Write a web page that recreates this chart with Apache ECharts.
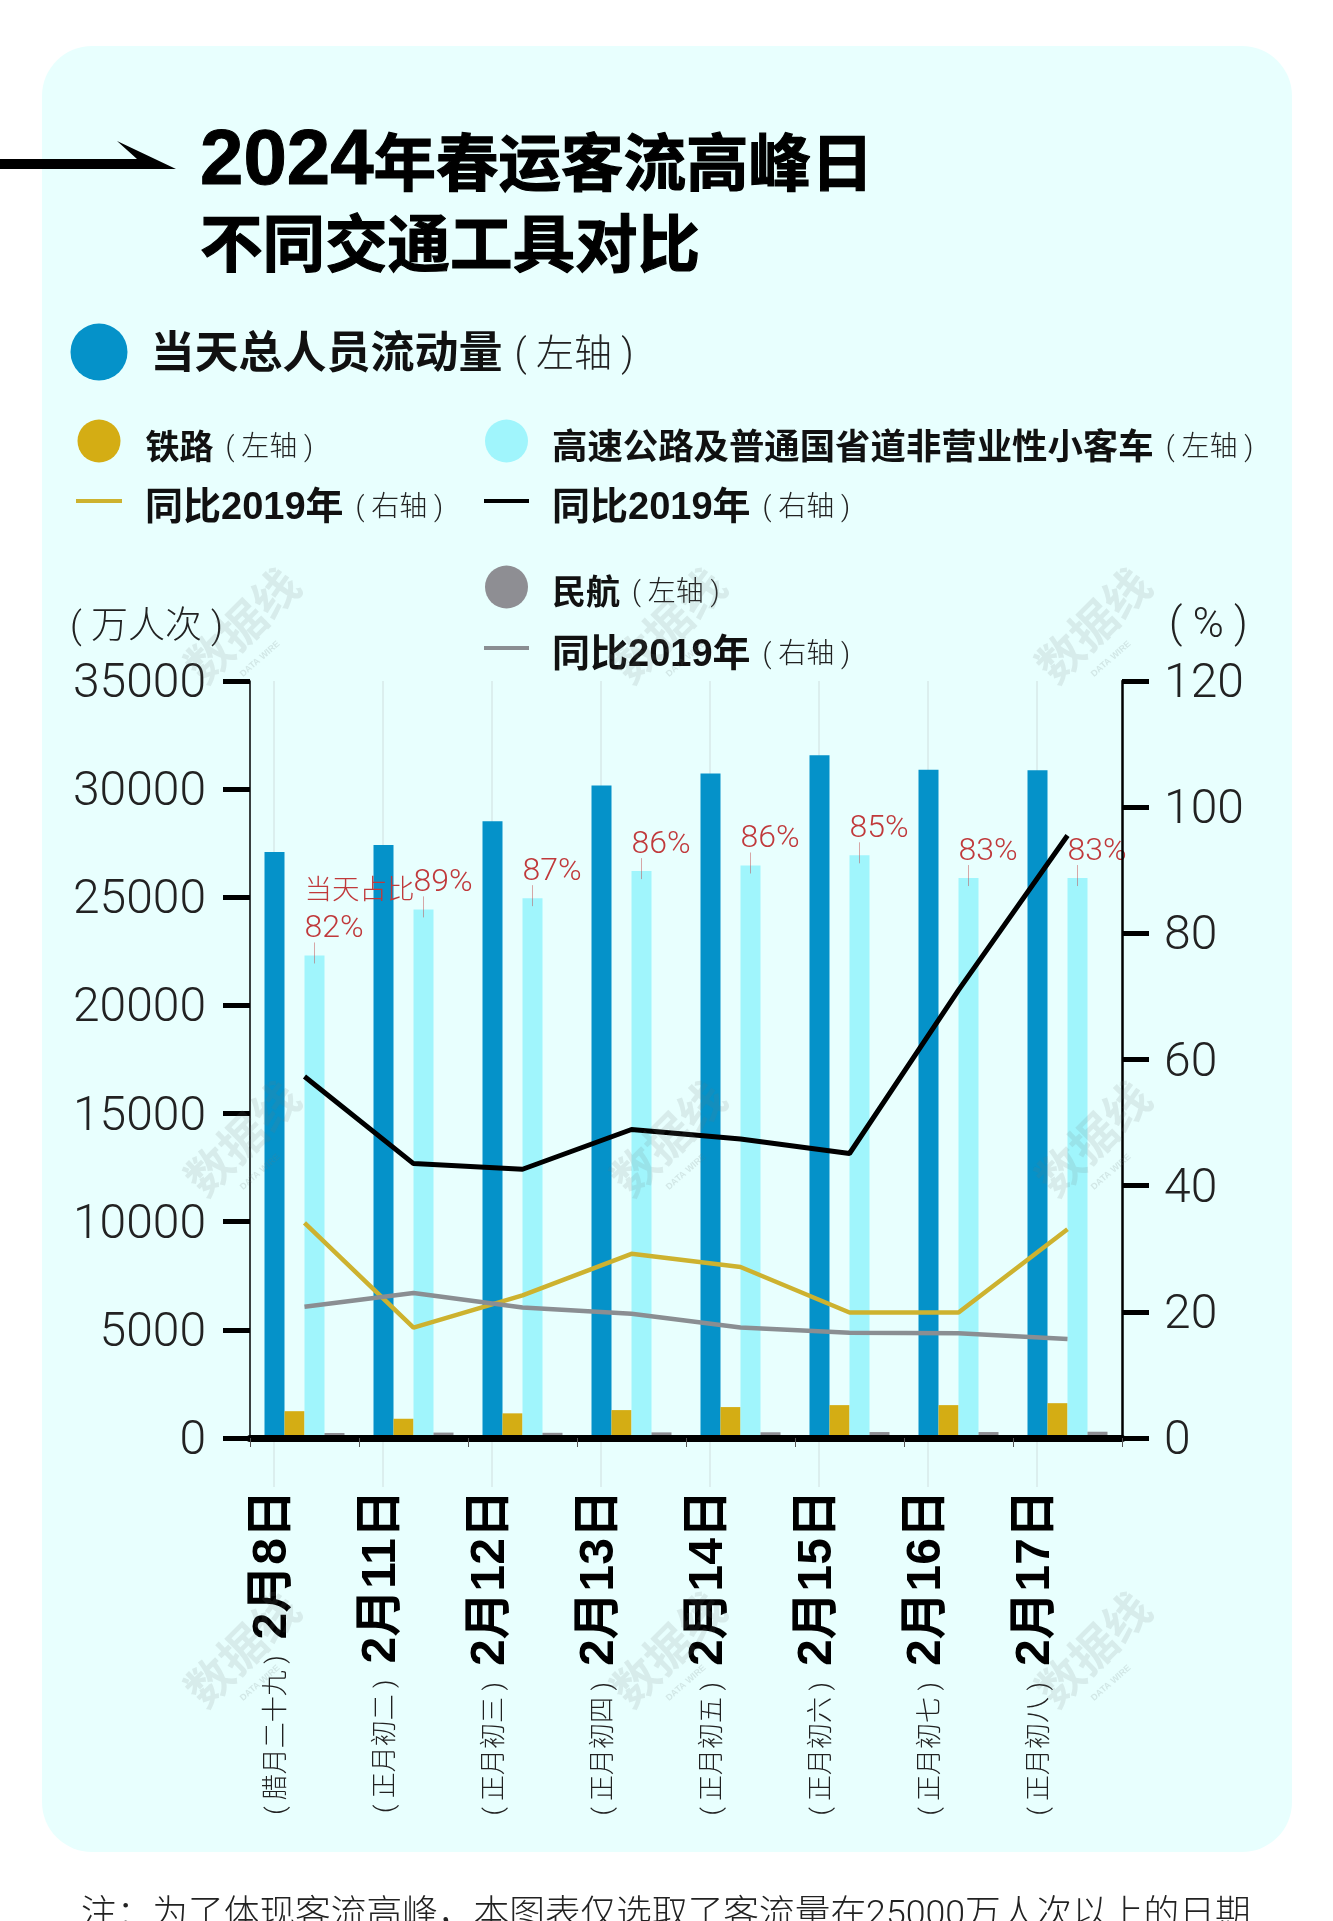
<!DOCTYPE html>
<html><head><meta charset="utf-8">
<style>html,body{margin:0;padding:0;background:#fff;overflow:hidden}#c{width:1333px;height:1921px}</style>
<script src="https://cdn.jsdelivr.net/npm/echarts@6/dist/echarts.min.js"></script>
</head><body><div id="c"></div>
<script>
const dates = ['2月8日','2月11日','2月12日','2月13日','2月14日','2月15日','2月16日','2月17日'];
const lunar = ['( 腊月二十九 )','( 正月初二 )','( 正月初三 )','( 正月初四 )','( 正月初五 )','( 正月初六 )','( 正月初七 )','( 正月初八 )'];
const total = [27090,27420,28520,30170,30720,31570,30900,30870];
const rail = [1240,890,1140,1290,1430,1520,1520,1610];
const highway = [22310,24440,24960,26210,26470,26940,25890,25890];
const aviation = [230,250,240,260,265,275,275,290];
const railYoY = [34.1,17.5,22.6,29.2,27.1,19.9,19.9,33.1];
const highwayYoY = [57.3,43.5,42.6,48.9,47.4,45.1,71,95.5];
const aviationYoY = [20.8,23,20.7,19.7,17.5,16.7,16.6,15.7];
const shareLabels = ['{h|当天占比}\n{v|82%}','{v|89%}','{v|87%}','{v|86%}','{v|86%}','{v|85%}','{v|83%}','{v|83%}'];
const leftTicks = {min:0,max:35000,interval:5000};
const rightTicks = {min:0,max:120,interval:20};

const SANS = '"Roboto","Noto Sans CJK SC",sans-serif';
const BOLD = '"Liberation Sans","Noto Sans CJK SC",sans-serif';
const CJK = '"Noto Sans CJK SC",sans-serif';
const C = {total:'#0592c9',rail:'#d4ad14',highway:'#a0f5fc',aviation:'#8e8e93',railL:'#cdb22f',hwL:'#000',avL:'#8a8e92',bg:'#e8fffe',red:'#c0393b',ink:'#1c1c1c'};

function legendItem(name,left,top,w,h,icon,label,axis,size,subSize,padTop,padLeft){
  return {show:true,left,top,padding:0,orient:'horizontal',selectedMode:false,data:[{name,icon}],itemWidth:w,itemHeight:h,
    formatter:()=>`{n|${label}}{a|${axis}}`,
    textStyle:{rich:{
      n:{fontFamily:BOLD,fontWeight:'bold',fontSize:size,lineHeight:size,color:'#111',padding:[padTop,0,0,padLeft]},
      a:{fontFamily:SANS,fontWeight:300,fontSize:subSize,lineHeight:size,color:'#222',padding:[padTop,0,0,12]}
    }}};
}
const wmPos = [[242,625],[668,625],[1093,625],[242,1138],[668,1138],[1093,1138],[242,1649],[668,1649],[1093,1649]];
const wm = wmPos.flatMap(p=>[
  {type:'text',x:p[0],y:p[1],rotation:0.78,silent:true,z:50,style:{text:'数据线',fontFamily:CJK,fontWeight:'bold',fontSize:46,fill:'rgba(110,120,120,0.14)',textAlign:'center',textVerticalAlign:'middle'}},
  {type:'text',x:p[0]+18,y:p[1]+34,rotation:0.72,silent:true,z:50,style:{text:'DATA WIRE',fontFamily:BOLD,fontWeight:'bold',fontSize:9,fill:'rgba(110,120,120,0.18)',textAlign:'center',textVerticalAlign:'middle'}}
]);

const option = {
  animation:false,
  backgroundColor:'#fff',
  title:{left:200,top:122,padding:0,
    text:'{d|2024}{t|年春运客流高峰日}\n{t|不同交通工具对比}',
    textStyle:{rich:{
      d:{fontFamily:BOLD,fontWeight:'bold',fontSize:78,lineHeight:81,color:'#000',textBorderColor:'#000',textBorderWidth:1},
      t:{fontFamily:CJK,fontWeight:'bold',fontSize:62.5,lineHeight:81,color:'#000',textBorderColor:'#000',textBorderWidth:1.2}
    }}},
  graphic:[
    {type:'rect',z:-10,silent:true,shape:{x:42,y:46,width:1250,height:1806,r:50},style:{fill:C.bg}},
    {type:'polygon',z:5,silent:true,shape:{points:[[0,159],[137,159],[117,141],[176,169],[0,169]]},style:{fill:'#000'}},
    {type:'text',z:5,silent:true,x:81,y:1916,style:{text:'注：为了体现客流高峰，本图表仅选取了客流量在25000万人次以上的日期',fontFamily:SANS,fontWeight:300,fontSize:35.7,fill:'#222',textVerticalAlign:'middle'}},
    ...wm
  ],
  legend:[
    legendItem('当天总人员流动量',70.5,323.5,57,57,'circle','当天总人员流动量','( 左轴 )',44,38,8,18),
    legendItem('铁路',77.5,415.5,43,43,'circle','铁路','( 左轴 )',34,28,17,20),
    legendItem('铁路同比2019年',76,474.5,46,4,'rect','同比2019年','( 右轴 )',38,28,15,18),
    legendItem('高速公路及普通国省道非营业性小客车',485,414.8,43,43,'circle','高速公路及普通国省道非营业性小客车','( 左轴 )',35.4,28,17,19),
    legendItem('高速公路同比2019年',484,474.5,45,4,'rect','同比2019年','( 右轴 )',38,28,15,18),
    legendItem('民航',485,562.5,43,43,'circle','民航','( 左轴 )',34,28,15,19),
    legendItem('民航同比2019年',484,621.5,45,4,'rect','同比2019年','( 右轴 )',38,28,15,18)
  ],
  grid:{left:250,right:211,top:681,bottom:483,containLabel:false},
  xAxis:{type:'category',data:dates,z:5,
    axisLine:{show:true,onZero:false,lineStyle:{color:'#000',width:7}},
    axisTick:{show:true,length:9,lineStyle:{color:'#555',width:1}},
    splitLine:{show:false},
    axisLabel:{interval:0,rotate:90,margin:52,verticalAlign:'bottom',hideOverlap:false,
      formatter:(v,i)=>`{s|${lunar[i]}}{d|${v}}`,
      rich:{
        s:{fontFamily:SANS,fontWeight:300,fontSize:26,color:'#222',verticalAlign:'bottom',padding:[0,0,14,0]},
        d:{fontFamily:BOLD,fontWeight:'bold',fontSize:48,color:'#000',verticalAlign:'bottom',padding:[0,0,8,16]}
      }}},
  yAxis:[
    {type:'value',...leftTicks,name:'( 万人次 )',nameLocation:'end',nameGap:34,z:5,
      nameTextStyle:{fontFamily:SANS,fontWeight:300,fontSize:37,color:'#222',align:'right',padding:[0,27,0,0]},
      axisLine:{show:true,lineStyle:{color:'#000',width:1.5}},
      axisTick:{show:true,length:27,lineStyle:{color:'#000',width:5}},
      splitLine:{show:false},
      axisLabel:{margin:44,formatter:v=>`{a|${v}}`,rich:{a:{padding:[8,0,0,0],fontFamily:SANS,fontWeight:300,fontSize:48,color:'#222'}}}},
    {type:'value',...rightTicks,name:'( % )',nameLocation:'end',nameGap:34,z:5,
      nameTextStyle:{fontFamily:SANS,fontWeight:300,fontSize:42,color:'#222',align:'left',padding:[0,0,0,47]},
      axisLine:{show:true,lineStyle:{color:'#000',width:2.5}},
      axisTick:{show:true,length:27,lineStyle:{color:'#000',width:5}},
      splitLine:{show:false},
      axisLabel:{margin:42,formatter:v=>`{a|${v}}`,rich:{a:{padding:[8,0,0,0],fontFamily:SANS,fontWeight:300,fontSize:48,color:'#222'}}}}
  ],
  series:[
    {type:'custom',name:'guide',z:1,silent:true,clip:false,data:dates.map((d,i)=>[i]),encode:{x:0},
      renderItem:(params,api)=>{
        const p=api.coord([api.value(0),0]);
        const sys=params.coordSys;
        return {type:'line',shape:{x1:p[0]-30.5,y1:sys.y,x2:p[0]-30.5,y2:sys.y+sys.height+49},style:{stroke:'#cfdede',lineWidth:1}};
      }},
    {type:'bar',name:'当天总人员流动量',data:total,yAxisIndex:0,barWidth:20,barGap:0,z:2,itemStyle:{color:C.total}},
    {type:'bar',name:'铁路',data:rail,yAxisIndex:0,barWidth:20,barGap:0,z:2,itemStyle:{color:C.rail}},
    {type:'bar',name:'高速公路及普通国省道非营业性小客车',data:highway,yAxisIndex:0,barWidth:20,barGap:0,z:2,itemStyle:{color:C.highway},
      label:{show:true,position:'top',distance:8,align:'left',offset:[-10,0],formatter:p=>shareLabels[p.dataIndex],
        rich:{
          h:{fontFamily:SANS,fontWeight:300,fontSize:27.5,lineHeight:37,color:C.red},
          v:{fontFamily:SANS,fontWeight:300,fontSize:32,lineHeight:37,color:C.red}
        }}},
    {type:'bar',name:'民航',data:aviation,yAxisIndex:0,barWidth:20,barGap:0,z:2,itemStyle:{color:C.aviation}},
    {type:'custom',name:'leader',z:4,silent:true,clip:false,data:highway.map((v,i)=>[i,v]),encode:{x:0,y:1},
      renderItem:(params,api)=>{
        const p=api.coord([api.value(0),api.value(1)]);
        return {type:'line',shape:{x1:p[0]+10,y1:p[1]-13,x2:p[0]+10,y2:p[1]+8},style:{stroke:'rgba(192,57,59,0.45)',lineWidth:1}};
      }},
    {type:'line',name:'铁路同比2019年',data:railYoY,yAxisIndex:1,z:3,symbol:'none',lineStyle:{color:C.railL,width:4.5},itemStyle:{color:C.railL}},
    {type:'line',name:'高速公路同比2019年',data:highwayYoY,yAxisIndex:1,z:3,symbol:'none',lineStyle:{color:C.hwL,width:5},itemStyle:{color:C.hwL}},
    {type:'line',name:'民航同比2019年',data:aviationYoY,yAxisIndex:1,z:3,symbol:'none',lineStyle:{color:C.avL,width:4.5},itemStyle:{color:C.avL}}
  ]
};
const chart = echarts.init(document.getElementById('c'),null,{renderer:'canvas',width:1333,height:1921});
chart.setOption(option);
</script></body></html>
